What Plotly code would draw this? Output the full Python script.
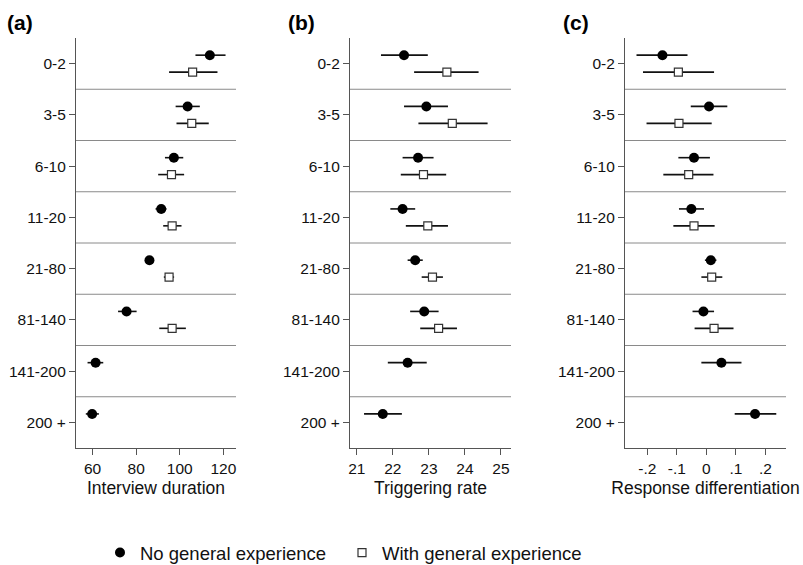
import plotly.graph_objects as go

categories = ["0-2", "3-5", "6-10", "11-20", "21-80", "81-140", "141-200", "200 +"]

# (a) Interview duration
dur_no = [113.8, 103.6, 97.3, 91.5, 86.1, 75.6, 61.4, 59.8]
dur_no_lo = [107.2, 98.1, 93.2, 88.9, 85.0, 71.7, 57.7, 56.9]
dur_no_hi = [121.0, 109.2, 101.6, 93.9, 87.2, 80.2, 64.9, 62.9]
dur_with = [105.9, 105.5, 96.2, 96.5, 95.1, 96.5]
dur_with_lo = [95.1, 98.5, 90.1, 92.4, 92.7, 90.6]
dur_with_hi = [117.3, 113.3, 102.0, 100.8, 97.4, 102.8]

# (b) Triggering rate
trig_no = [22.31, 22.93, 22.70, 22.27, 22.62, 22.87, 22.41, 21.72]
trig_no_lo = [21.67, 22.31, 22.27, 21.93, 22.41, 22.48, 21.86, 21.20]
trig_no_hi = [22.97, 23.53, 23.13, 22.62, 22.83, 23.27, 22.94, 22.25]
trig_with = [23.50, 23.65, 22.85, 22.97, 23.10, 23.27]
trig_with_lo = [22.59, 22.71, 22.22, 22.36, 22.80, 22.76]
trig_with_hi = [24.38, 24.63, 23.48, 23.53, 23.39, 23.78]

# (c) Response differentiation
resp_no = [-0.149, 0.009, -0.042, -0.051, 0.015, -0.010, 0.051, 0.165]
resp_no_lo = [-0.237, -0.053, -0.095, -0.093, -0.005, -0.047, -0.017, 0.096]
resp_no_hi = [-0.064, 0.071, 0.012, -0.008, 0.034, 0.026, 0.119, 0.237]
resp_with = [-0.095, -0.093, -0.060, -0.042, 0.018, 0.026]
resp_with_lo = [-0.215, -0.203, -0.146, -0.112, -0.017, -0.040]
resp_with_hi = [0.026, 0.018, 0.024, 0.028, 0.054, 0.092]

panel_titles = ["Interview duration", "Triggering rate", "Response differentiation"]
panel_letters = ["(a)", "(b)", "(c)"]
x_ranges = [[52.4, 125.8], [20.81, 25.28], [-0.276, 0.27]]
x_tickvals = [[60, 80, 100, 120], [21, 22, 23, 24, 25], [-0.2, -0.1, 0, 0.1, 0.2]]
x_ticktext = [["60", "80", "100", "120"], ["21", "22", "23", "24", "25"],
              ["-.2", "-.1", "0", ".1", ".2"]]

FONT = "Liberation Sans, Arial, sans-serif"
DARK = "#111111"
AXIS = "#555555"
OFF = 0.165

panels = [
    (dur_no, dur_no_lo, dur_no_hi, dur_with, dur_with_lo, dur_with_hi),
    (trig_no, trig_no_lo, trig_no_hi, trig_with, trig_with_lo, trig_with_hi),
    (resp_no, resp_no_lo, resp_no_hi, resp_with, resp_with_lo, resp_with_hi),
]

W, H = 803, 565
TOP, BOT = 38, 448
PH = BOT - TOP
x_domains = [[76 / W, 236 / W], [350 / W, 511 / W], [625 / W, 786 / W]]

fig = go.Figure()

for p, (no, nlo, nhi, wi, wlo, whi) in enumerate(panels):
    xa = "x" if p == 0 else f"x{p+1}"
    ya = "y" if p == 0 else f"y{p+1}"
    pos_no = [i - OFF for i in range(len(no))]
    pos_wi = [i + OFF for i in range(len(wi))]
    fig.add_trace(go.Scatter(
        x=no, y=pos_no, mode="markers", xaxis=xa, yaxis=ya,
        name="No general experience", showlegend=(p == 0), legendgroup="no",
        marker=dict(symbol="circle", size=10, color="black"),
        error_x=dict(type="data", symmetric=False,
                     array=[h - v for h, v in zip(nhi, no)],
                     arrayminus=[v - l for v, l in zip(no, nlo)],
                     width=0, thickness=1.6, color=DARK),
    ))
    fig.add_trace(go.Scatter(
        x=wi, y=pos_wi, mode="markers", xaxis=xa, yaxis=ya,
        name="With general experience", showlegend=(p == 0), legendgroup="with",
        marker=dict(symbol="square", size=8, color="white",
                    line=dict(color="#333333", width=1.2)),
        error_x=dict(type="data", symmetric=False,
                     array=[h - v for h, v in zip(whi, wi)],
                     arrayminus=[v - l for v, l in zip(wi, wlo)],
                     width=0, thickness=1.6, color=DARK),
    ))
    for k in range(len(categories) - 1):
        fig.add_shape(type="line", xref=f"{xa} domain", yref=ya,
                      x0=0, x1=1, y0=k + 0.5, y1=k + 0.5,
                      line=dict(color="#8a8a8a", width=1), layer="below")
    xkey = "xaxis" if p == 0 else f"xaxis{p+1}"
    ykey = "yaxis" if p == 0 else f"yaxis{p+1}"
    fig.update_layout({
        xkey: dict(domain=x_domains[p], range=x_ranges[p], anchor=ya,
                   tickvals=x_tickvals[p], ticktext=x_ticktext[p],
                   showgrid=False, zeroline=False, showline=True,
                   linecolor=AXIS, linewidth=1.2, ticks="outside",
                   ticklen=6, tickcolor=AXIS, tickwidth=1.2,
                   tickfont=dict(size=15.5, color=DARK, family=FONT),
                   title=dict(text=panel_titles[p], standoff=6,
                              font=dict(size=17.5, color=DARK, family=FONT))),
        ykey: dict(domain=[0, 1], range=[len(categories) - 0.5, -0.5],
                   anchor=xa, tickvals=list(range(len(categories))),
                   ticktext=categories, showgrid=False, zeroline=False,
                   showline=True, linecolor=AXIS, linewidth=1.2,
                   ticks="outside", ticklen=6, tickcolor=AXIS, tickwidth=1.2,
                   tickfont=dict(size=15.5, color=DARK, family=FONT)),
    })
    fig.add_annotation(text=f"<b>{panel_letters[p]}</b>", xref="paper", yref="paper",
                       x=x_domains[p][0] - (71 if p == 0 else 64) / W,
                       y=1 + (TOP - 23) / PH, xanchor="left", yanchor="middle",
                       showarrow=False, font=dict(size=21, color="black", family=FONT))

fig.update_layout(
    width=W, height=H,
    margin=dict(l=0, r=0, t=TOP, b=H - BOT, autoexpand=False),
    paper_bgcolor="white", plot_bgcolor="white",
    font=dict(family=FONT, color=DARK),
    showlegend=True,
    legend=dict(orientation="h", x=100 / W, xanchor="left",
                y=(BOT - 553) / PH, yanchor="middle",
                entrywidth=197, entrywidthmode="pixels",
                font=dict(size=18.5, color=DARK, family=FONT),
                bgcolor="rgba(0,0,0,0)"),
)

fig.write_html("out.html", config={"displayModeBar": False},
               post_script="document.body.style.margin='0';document.body.style.overflow='hidden';")
